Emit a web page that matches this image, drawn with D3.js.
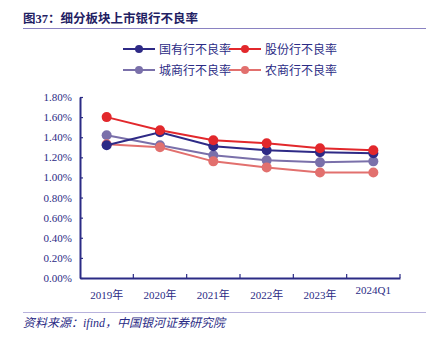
<!DOCTYPE html>
<html>
<head>
<meta charset="utf-8">
<script src="https://cdn.jsdelivr.net/npm/d3@7"></script>
<style>
  body { margin: 0; background: #fff; }
  svg text { font-family: "Liberation Serif", "Noto Sans CJK SC", serif; }
</style>
</head>
<body>
<div id="chart"></div>
<script>
var categories = ['2019年', '2020年', '2021年', '2022年', '2023年', '2024Q1'];
var seriesNames = ['国有行不良率', '股份行不良率', '城商行不良率', '农商行不良率'];
var stateOwned = [1.32, 1.45, 1.31, 1.27, 1.25, 1.24];
var jointStock = [1.60, 1.47, 1.37, 1.34, 1.29, 1.27];
var cityBanks = [1.42, 1.32, 1.22, 1.17, 1.15, 1.16];
var ruralBanks = [1.33, 1.30, 1.16, 1.10, 1.05, 1.05];
var yTicks = [0, 0.2, 0.4, 0.6, 0.8, 1.0, 1.2, 1.4, 1.6, 1.8];
var colors = ['#2e2a86', '#e2282c', '#7a70aa', '#e2706e'];

var width = 426, height = 341;
var margin = { left: 80, right: 26, top: 97, bottom: 63 };
var svg = d3.select('#chart').append('svg').attr('width', width).attr('height', height);

// title and rules
svg.append('text').attr('x', 23).attr('y', 23)
  .attr('font-family', '"Noto Sans CJK SC", sans-serif')
  .attr('font-size', 12.5).attr('font-weight', 'bold').attr('fill', '#1f2163')
  .text('图37：细分板块上市银行不良率');
svg.append('line').attr('x1', 23).attr('x2', 426).attr('y1', 28.5).attr('y2', 28.5)
  .attr('stroke', '#8a82c2').attr('stroke-width', 1);
svg.append('line').attr('x1', 23).attr('x2', 426).attr('y1', 312.5).attr('y2', 312.5)
  .attr('stroke', '#b8b2dc').attr('stroke-width', 1.2);
svg.append('text').attr('x', 23).attr('y', 327)
  .attr('font-size', 12).attr('font-style', 'italic').attr('fill', '#2b2b85')
  .text('资料来源：ifind，中国银河证券研究院');

var x = d3.scaleBand().domain(categories)
  .range([margin.left, width - margin.right]);
var y = d3.scaleLinear().domain([0, 1.8])
  .range([height - margin.bottom, margin.top]);

// y axis, ticks pointing inward
var yAxis = svg.append('g').attr('transform', 'translate(' + margin.left + ',0)')
  .call(d3.axisLeft(y).tickValues(yTicks).tickSize(-3).tickSizeOuter(0)
    .tickFormat(function(d) { return d.toFixed(2) + '%'; }));
yAxis.selectAll('text').attr('x', -8).attr('font-size', 11).attr('fill', '#2b2b85');

// x axis, ticks at band edges
var xAxis = svg.append('g').attr('transform', 'translate(0,' + (height - margin.bottom) + ')')
  .call(d3.axisBottom(x).tickSize(0).tickSizeOuter(0));
xAxis.selectAll('text').attr('y', 13).attr('font-size', 11).attr('fill', '#2b2b85');
xAxis.selectAll('.tick').filter(function(d) { return d === '2024Q1'; })
  .select('text').attr('y', 8);
var edges = categories.map(function(c) { return x(c); }).concat([width - margin.right]);
xAxis.selectAll('.edge').data(edges.slice(1)).enter().append('line')
  .attr('x1', function(d) { return d; }).attr('x2', function(d) { return d; })
  .attr('y1', 0).attr('y2', -4).attr('stroke', '#2b2b85').attr('stroke-width', 1.2);
svg.selectAll('.domain').attr('stroke', '#2b2b85').attr('stroke-width', 2);
yAxis.selectAll('.tick line').attr('stroke', '#2b2b85').attr('stroke-width', 1.2);

var allSeries = [stateOwned, jointStock, cityBanks, ruralBanks];
var line = d3.line()
  .x(function(d, i) { return x(categories[i]) + x.bandwidth() / 2; })
  .y(function(d) { return y(d); });

// draw in stacking order: city, rural, state-owned, joint-stock on top
[2, 3, 0, 1].forEach(function(k) {
  var g = svg.append('g');
  g.append('path').datum(allSeries[k]).attr('d', line)
    .attr('fill', 'none').attr('stroke', colors[k]).attr('stroke-width', 2);
  g.selectAll('circle').data(allSeries[k]).enter().append('circle')
    .attr('cx', function(d, i) { return x(categories[i]) + x.bandwidth() / 2; })
    .attr('cy', function(d) { return y(d); })
    .attr('r', 5).attr('fill', colors[k]);
});

// legend
var legendPos = [[123, 49], [229, 49], [123, 70], [229, 70]];
seriesNames.forEach(function(name, k) {
  var p = legendPos[k];
  var g = svg.append('g').attr('transform', 'translate(' + p[0] + ',' + p[1] + ')');
  g.append('line').attr('x1', 0).attr('x2', 32).attr('stroke', colors[k]).attr('stroke-width', 2);
  g.append('circle').attr('cx', 16).attr('r', 4).attr('fill', colors[k]);
  g.append('text').attr('x', 36).attr('y', 4.5).attr('font-size', 12)
    .attr('fill', '#2b2b85').text(name);
});
</script>
</body>
</html>
